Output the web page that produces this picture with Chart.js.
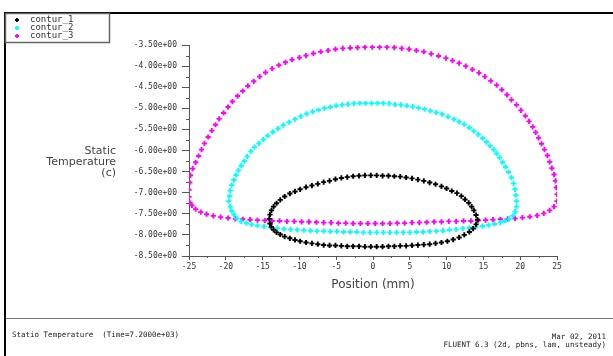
<!DOCTYPE html>
<html>
<head>
<meta charset="utf-8">
<script src="https://cdn.jsdelivr.net/npm/chart.js@4.4.1/dist/chart.umd.min.js"></script>
<style>
  html, body { margin: 0; padding: 0; background: #fff; }
  canvas { display: block; }
</style>
</head>
<body>
<canvas id="tempChart" width="613" height="356"></canvas>
<script>
// series names shown in the legend
const seriesNames = ['contur_1', 'contur_2', 'contur_3'];

// contour points: [position (mm), static temperature (c)]
const contur1 = [
  [-14.1,-7.62],[-14.0,-7.52],[-13.8,-7.42],[-13.5,-7.33],[-13.1,-7.25],[-12.6,-7.17],[-12.0,-7.09],[-11.3,-7.02],
  [-10.6,-6.97],[-9.9,-6.92],[-9.1,-6.87],[-8.3,-6.83],[-7.5,-6.79],[-6.7,-6.75],[-5.9,-6.72],[-5.1,-6.68],
  [-4.3,-6.65],[-3.5,-6.63],[-2.7,-6.61],[-1.9,-6.60],[-1.1,-6.59],[-0.3,-6.59],[0.5,-6.59],[1.3,-6.60],
  [2.1,-6.60],[2.9,-6.61],[3.7,-6.62],[4.5,-6.64],[5.3,-6.66],[6.1,-6.69],[6.9,-6.72],[7.7,-6.76],
  [8.5,-6.80],[9.3,-6.85],[10.0,-6.90],[10.7,-6.96],[11.4,-7.01],[12.0,-7.08],[12.5,-7.16],[13.0,-7.24],
  [13.4,-7.33],[13.7,-7.42],[14.0,-7.53],[14.2,-7.64],
  [14.0,-7.75],[13.6,-7.85],[13.1,-7.93],[12.4,-8.00],[11.7,-8.06],[10.9,-8.11],[10.1,-8.15],[9.3,-8.18],
  [8.5,-8.20],[7.7,-8.22],[6.9,-8.23],[6.1,-8.24],[5.3,-8.25],[4.5,-8.26],[3.7,-8.26],[2.9,-8.27],
  [2.1,-8.27],[1.3,-8.28],[0.5,-8.28],[-0.3,-8.28],[-1.1,-8.28],[-1.9,-8.27],[-2.7,-8.27],[-3.5,-8.27],
  [-4.3,-8.26],[-5.1,-8.25],[-5.9,-8.25],[-6.7,-8.24],[-7.5,-8.22],[-8.3,-8.20],[-9.1,-8.18],[-9.9,-8.15],
  [-10.6,-8.12],[-11.3,-8.08],[-12.0,-8.04],[-12.6,-7.99],[-13.1,-7.94],[-13.5,-7.88],[-13.8,-7.81],[-14.0,-7.73]
];

const contur2 = [
  [-19.6,-7.20],[-19.5,-7.08],[-19.4,-6.95],[-19.2,-6.82],[-18.9,-6.70],[-18.6,-6.58],[-18.3,-6.47],[-17.9,-6.36],
  [-17.5,-6.25],[-17.1,-6.14],[-16.6,-6.02],[-16.1,-5.92],[-15.5,-5.83],[-14.9,-5.74],[-14.3,-5.65],[-13.6,-5.56],
  [-12.9,-5.48],[-12.2,-5.40],[-11.4,-5.33],[-10.6,-5.26],[-9.8,-5.19],[-9.0,-5.13],[-8.2,-5.08],[-7.4,-5.04],
  [-6.6,-5.00],[-5.8,-4.97],[-5.0,-4.94],[-4.2,-4.92],[-3.4,-4.90],[-2.6,-4.89],[-1.8,-4.88],[-1.0,-4.88],
  [-0.2,-4.88],[0.6,-4.88],[1.4,-4.88],[2.2,-4.89],[3.0,-4.91],[3.8,-4.92],[4.6,-4.94],[5.4,-4.96],
  [6.2,-4.99],[7.0,-5.02],[7.8,-5.06],[8.6,-5.10],[9.4,-5.14],[10.2,-5.20],[11.0,-5.26],[11.7,-5.32],
  [12.4,-5.38],[13.1,-5.46],[13.7,-5.54],[14.3,-5.62],[14.9,-5.71],[15.4,-5.80],[15.9,-5.89],[16.4,-5.98],
  [16.8,-6.07],[17.2,-6.17],[17.6,-6.28],[18.0,-6.39],[18.4,-6.51],[18.8,-6.64],[19.1,-6.78],[19.3,-6.92],
  [19.4,-7.06],[19.5,-7.20],
  [19.5,-7.33],[19.3,-7.45],[19.0,-7.55],[18.5,-7.62],[17.9,-7.67],[17.3,-7.71],[16.5,-7.74],[15.7,-7.77],
  [14.9,-7.79],[14.0,-7.81],[13.1,-7.83],[12.2,-7.85],[11.3,-7.87],[10.4,-7.88],[9.5,-7.90],[8.6,-7.91],
  [7.7,-7.92],[6.8,-7.93],[5.9,-7.93],[5.0,-7.94],[4.1,-7.94],[3.2,-7.94],[2.3,-7.94],[1.4,-7.94],
  [0.5,-7.94],[-0.4,-7.94],[-1.3,-7.94],[-2.2,-7.93],[-3.1,-7.93],[-4.0,-7.93],[-4.9,-7.92],[-5.8,-7.92],
  [-6.7,-7.91],[-7.6,-7.91],[-8.5,-7.90],[-9.4,-7.89],[-10.3,-7.88],[-11.2,-7.87],[-12.1,-7.86],[-13.0,-7.84],
  [-13.9,-7.82],[-14.8,-7.80],[-15.7,-7.78],[-16.5,-7.75],[-17.2,-7.72],[-17.9,-7.68],[-18.5,-7.61],[-18.9,-7.52],
  [-19.2,-7.43],[-19.4,-7.33]
];

const contur3 = [
  [-25.0,-7.10],[-25.0,-6.93],[-24.9,-6.76],[-24.8,-6.59],[-24.5,-6.43],[-24.1,-6.28],[-23.7,-6.13],[-23.3,-5.98],
  [-22.9,-5.83],[-22.4,-5.68],[-21.9,-5.53],[-21.4,-5.39],[-20.9,-5.25],[-20.3,-5.11],[-19.7,-4.97],[-19.1,-4.84],
  [-18.4,-4.71],[-17.7,-4.59],[-17.0,-4.47],[-16.2,-4.36],[-15.4,-4.25],[-14.6,-4.15],[-13.7,-4.06],[-12.8,-3.98],
  [-11.9,-3.91],[-11.0,-3.85],[-10.0,-3.80],[-9.1,-3.75],[-8.1,-3.70],[-7.1,-3.66],[-6.1,-3.63],[-5.1,-3.60],
  [-4.1,-3.58],[-3.1,-3.57],[-2.1,-3.56],[-1.1,-3.55],[-0.1,-3.55],[0.9,-3.55],[1.9,-3.55],[2.9,-3.56],
  [3.9,-3.58],[4.9,-3.60],[5.9,-3.63],[6.9,-3.66],[7.9,-3.71],[8.9,-3.76],[9.9,-3.81],[10.8,-3.87],
  [11.7,-3.93],[12.6,-4.00],[13.5,-4.08],[14.4,-4.16],[15.2,-4.25],[16.0,-4.35],[16.8,-4.45],[17.5,-4.56],
  [18.2,-4.68],[18.8,-4.80],[19.5,-4.92],[20.1,-5.05],[20.7,-5.18],[21.2,-5.31],[21.7,-5.44],[22.1,-5.57],
  [22.5,-5.70],[22.9,-5.84],[23.3,-5.98],[23.7,-6.12],[24.0,-6.27],[24.3,-6.42],[24.6,-6.57],[24.8,-6.72],
  [24.9,-6.88],[25.0,-7.04],
  [25.0,-7.20],[24.6,-7.33],[24.0,-7.42],[23.2,-7.49],[22.3,-7.54],[21.3,-7.57],[20.3,-7.59],[19.3,-7.61],
  [18.3,-7.62],[17.3,-7.63],[16.3,-7.64],[15.3,-7.65],[14.3,-7.66],[13.3,-7.67],[12.3,-7.67],[11.3,-7.68],
  [10.3,-7.68],[9.3,-7.69],[8.3,-7.69],[7.3,-7.70],[6.3,-7.71],[5.3,-7.71],[4.3,-7.72],[3.3,-7.72],
  [2.3,-7.73],[1.3,-7.73],[0.3,-7.73],[-0.7,-7.73],[-1.7,-7.73],[-2.7,-7.73],[-3.7,-7.72],[-4.7,-7.72],
  [-5.7,-7.71],[-6.7,-7.71],[-7.7,-7.70],[-8.7,-7.69],[-9.7,-7.69],[-10.7,-7.68],[-11.7,-7.68],[-12.7,-7.67],
  [-13.7,-7.67],[-14.7,-7.66],[-15.7,-7.65],[-16.7,-7.64],[-17.7,-7.63],[-18.7,-7.62],[-19.7,-7.60],[-20.7,-7.58],
  [-21.7,-7.55],[-22.6,-7.51],[-23.4,-7.46],[-24.1,-7.39],[-24.6,-7.30],[-24.9,-7.23]
];

// axis ranges and tick steps
const xRange = [-25, 25];
const yRange = [-8.5, -3.5];
const xStep = 5;
const yStep = 0.5;

const seriesColors = ['#000000', '#00ffff', '#ff00ff'];
const axisColor = '#555555';
const textColor = '#333333';

// exponent format like the Fluent plot: -3.50e+00
function sciLabel(v) {
    const s = Number(v).toExponential(2);
    return s.replace(/e([+-])(\d+)$/, function (m, sign, digits) {
        return 'e' + sign + (digits.length < 2 ? '0' + digits : digits);
    });
}

function toPoints(arr) {
    return arr.map(p => ({ x: p[0], y: p[1] }));
}

function drawPlus(ctx, x, y, r, color) {
    ctx.save();
    ctx.strokeStyle = color;
    ctx.lineWidth = 1.8;
    ctx.beginPath();
    ctx.moveTo(x - r, y); ctx.lineTo(x + r, y);
    ctx.moveTo(x, y - r); ctx.lineTo(x, y + r);
    ctx.stroke();
    ctx.restore();
}

// frame, legend box, titles, minor ticks and footer text
const decorPlugin = {
    id: 'decor',
    afterDraw(chart) {
        const ctx = chart.ctx;
        const xs = chart.scales.x;
        const ys = chart.scales.y;
        ctx.save();

        // minor ticks
        ctx.strokeStyle = axisColor;
        ctx.lineWidth = 1;
        ctx.beginPath();
        for (let v = yRange[0] + yStep / 2; v < yRange[1]; v += yStep) {
            const py = Math.round(ys.getPixelForValue(v)) + 0.5;
            ctx.moveTo(xs.left - 3, py); ctx.lineTo(xs.left, py);
        }
        for (let v = xRange[0] + xStep / 2; v < xRange[1]; v += xStep) {
            const px = Math.round(xs.getPixelForValue(v)) + 0.5;
            ctx.moveTo(px, ys.bottom); ctx.lineTo(px, ys.bottom + 2);
        }
        ctx.stroke();

        // outer frame
        ctx.fillStyle = '#000';
        ctx.fillRect(4, 12, 609, 2);
        ctx.fillRect(4, 12, 2, 344);
        ctx.fillStyle = '#777';
        ctx.fillRect(6, 318, 607, 1);

        // legend box
        ctx.strokeStyle = '#666';
        ctx.lineWidth = 1.5;
        ctx.strokeRect(5.5, 13.5, 104, 29);
        ctx.font = '9px "DejaVu Sans Mono"';
        ctx.textBaseline = 'middle';
        ctx.textAlign = 'left';
        seriesNames.forEach((name, i) => {
            const ly = 20 + i * 8;
            drawPlus(ctx, 17, ly, 2, seriesColors[i]);
            ctx.fillStyle = textColor;
            ctx.fillText(name, 30, ly);
        });

        // y axis title
        ctx.fillStyle = '#444';
        ctx.font = '11px "DejaVu Sans"';
        ctx.textAlign = 'right';
        ['Static', 'Temperature', '(c)'].forEach((t, i) => {
            ctx.fillText(t, 116, 151 + i * 11);
        });

        // x axis title
        ctx.textAlign = 'center';
        ctx.font = '12px "DejaVu Sans"';
        ctx.fillText('Position (mm)', (xs.left + xs.right) / 2, 285);

        // footer
        ctx.fillStyle = '#222';
        ctx.font = '7.5px "DejaVu Sans Mono"';
        ctx.textAlign = 'left';
        ctx.fillText('Statio Temperature  (Time=7.2000e+03)', 12, 335);
        ctx.textAlign = 'right';
        ctx.fillText('Mar 02, 2011', 606, 337);
        ctx.fillText('FLUENT 6.3 (2d, pbns, lam, unsteady)', 606, 345);

        ctx.restore();
    }
};

const ctx = document.getElementById('tempChart').getContext('2d');
const chart = new Chart(ctx, {
    type: 'scatter',
    data: {
        datasets: [contur1, contur2, contur3].map((arr, i) => ({
            label: seriesNames[i],
            data: toPoints(arr),
            showLine: false,
            pointStyle: 'cross',
            pointRadius: 2.6,
            pointBorderWidth: 1.9,
            borderColor: seriesColors[i],
            backgroundColor: seriesColors[i]
        }))
    },
    options: {
        responsive: false,
        animation: false,
        layout: { padding: { left: 0, top: 45, right: 56, bottom: 0 } },
        plugins: {
            legend: { display: false },
            tooltip: { enabled: false }
        },
        scales: {
            x: {
                type: 'linear',
                min: xRange[0],
                max: xRange[1],
                afterFit(scale) { scale.height = 100; },
                ticks: {
                    stepSize: xStep,
                    color: textColor,
                    padding: 2,
                    font: { family: 'DejaVu Sans Mono', size: 8 }
                },
                grid: { drawOnChartArea: false, tickLength: 4, color: axisColor },
                border: { color: axisColor, width: 1 }
            },
            y: {
                type: 'linear',
                min: yRange[0],
                max: yRange[1],
                afterFit(scale) { scale.width = 189; },
                ticks: {
                    stepSize: yStep,
                    color: textColor,
                    padding: 5,
                    font: { family: 'DejaVu Sans Mono', size: 8 },
                    callback: v => sciLabel(v)
                },
                grid: { drawOnChartArea: false, tickLength: 7, color: axisColor },
                border: { color: axisColor, width: 1 }
            }
        }
    },
    plugins: [decorPlugin]
});
</script>
</body>
</html>
